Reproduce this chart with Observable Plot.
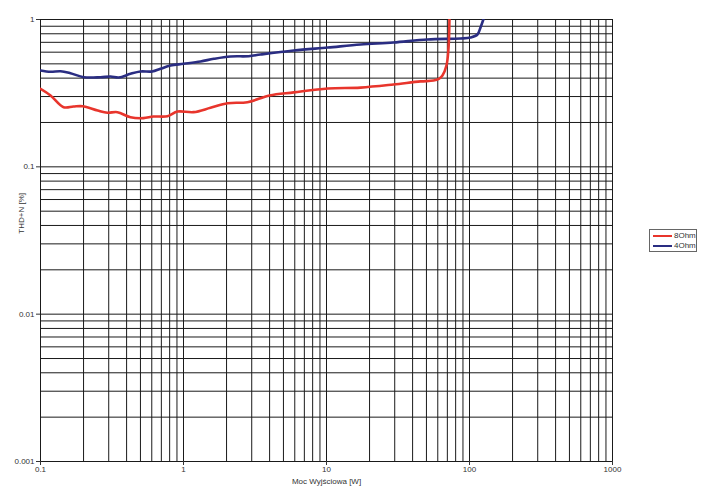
<!DOCTYPE html>
<html><head><meta charset="utf-8">
<script src="https://cdn.jsdelivr.net/npm/d3@7"></script>
<script src="https://cdn.jsdelivr.net/npm/@observablehq/plot@0.6"></script>
<style>
body{margin:0;background:#fff;font-family:"Liberation Sans",Arial,sans-serif;}
#wrap{position:relative;width:705px;height:486px;}
#legend{position:absolute;left:649px;top:229px;width:46px;height:21px;border:1px solid #666;background:#fff;font-size:8px;color:#333;}
.item{position:absolute;left:3px;height:10px;line-height:10px;}
.sw{display:inline-block;width:19px;height:2.5px;vertical-align:middle;margin-right:2px;}
</style></head>
<body><div id="wrap"><div id="legend"></div></div>
<script>
// 8 Ohm series (red)
const ohm8X = [0.1, 0.1175, 0.145, 0.170, 0.197, 0.251, 0.294, 0.345, 0.426, 0.525, 0.616, 0.773, 0.908, 1.175, 1.545, 2.03, 2.80, 3.99, 5.9, 10.2, 17.3, 29.4, 45.4, 56, 61, 64.7, 69, 71.3, 72.4];
const ohm8Y = [0.338, 0.305, 0.254, 0.2566, 0.2578, 0.241, 0.233, 0.235, 0.217, 0.214, 0.2195, 0.2206, 0.2373, 0.235, 0.2515, 0.270, 0.2745, 0.305, 0.32, 0.34, 0.345, 0.362, 0.38, 0.385, 0.395, 0.417, 0.487, 0.636, 1.0];
// 4 Ohm series (navy)
const ohm4X = [0.1, 0.1175, 0.138, 0.162, 0.201, 0.263, 0.309, 0.353, 0.426, 0.5, 0.604, 0.690, 0.811, 1.0, 1.315, 1.63, 2.13, 2.86, 3.45, 5.9, 10.2, 17.3, 29.4, 50.8, 86.5, 101.6, 113.7, 119.4, 125];
const ohm4Y = [0.451, 0.4415, 0.4457, 0.4319, 0.4057, 0.4057, 0.410, 0.4038, 0.4279, 0.4436, 0.4436, 0.4628, 0.4873, 0.5004, 0.519, 0.541, 0.561, 0.5636, 0.578, 0.616, 0.645, 0.676, 0.698, 0.732, 0.743, 0.755, 0.791, 0.883, 1.0];

const seriesNames = ["8Ohm", "4Ohm"];
const seriesColors = ["#e8352c", "#2a2d82"];

const xTicks = [0.1, 1, 10, 100, 1000];
const yTicks = [0.001, 0.01, 0.1, 1];
const xGrid = [0.1,0.2,0.3,0.4,0.5,0.6,0.7,0.8,0.9,1,2,3,4,5,6,7,8,9,10,20,30,40,50,60,70,80,90,100,200,300,400,500,600,700,800,900,1000];
const yGrid = [0.001,0.002,0.003,0.004,0.005,0.006,0.007,0.008,0.009,0.01,0.02,0.03,0.04,0.05,0.06,0.07,0.08,0.09,0.1,0.2,0.3,0.4,0.5,0.6,0.7,0.8,0.9,1];

const xLabel = "Moc Wyjściowa [W]";
const yLabel = "THD+N [%]";

const d8 = ohm8X.map((x, i) => ({x, y: ohm8Y[i]}));
const d4 = ohm4X.map((x, i) => ({x, y: ohm4Y[i]}));
const fmt = d => String(d);

const plot = Plot.plot({
  width: 705, height: 486,
  marginLeft: 40, marginRight: 93, marginTop: 19, marginBottom: 25,
  style: {fontFamily: "Liberation Sans, Arial, sans-serif", fontSize: "8px", color: "#333", background: "#fff"},
  x: {type: "log", domain: [0.1, 1000]},
  y: {type: "log", domain: [0.001, 1]},
  marks: [
    Plot.ruleX(xGrid, {stroke: "#1a1a1a", strokeWidth: 1}),
    Plot.ruleY(yGrid, {stroke: "#1a1a1a", strokeWidth: 1}),
    Plot.frame({stroke: "#1a1a1a"}),
    Plot.line(d4, {x: "x", y: "y", stroke: seriesColors[1], strokeWidth: 2.6, curve: "catmull-rom", clip: true}),
    Plot.line(d8, {x: "x", y: "y", stroke: seriesColors[0], strokeWidth: 2.6, curve: "catmull-rom", clip: true}),
    Plot.axisX({ticks: xTicks, tickFormat: fmt, tickSize: 4, tickPadding: 1, label: null, stroke: "#333"}),
    Plot.axisY({ticks: yTicks, tickFormat: fmt, tickSize: 4, tickPadding: 2, label: null, stroke: "#333"}),
    Plot.text([xLabel], {frameAnchor: "bottom", lineAnchor: "middle", dy: 20, fill: "#333", fontSize: 8}),
    Plot.text([yLabel], {frameAnchor: "left", y: [0.0352], dx: -19, rotate: -90, fill: "#333", fontSize: 8})
  ]
});
document.getElementById("wrap").prepend(plot);

const leg = document.getElementById("legend");
seriesNames.forEach((n, i) => {
  const it = document.createElement("div");
  it.className = "item";
  it.style.top = (1 + i * 10) + "px";
  it.innerHTML = `<span class="sw" style="background:${seriesColors[i]}"></span>${n}`;
  leg.appendChild(it);
});
</script>
</body></html>
